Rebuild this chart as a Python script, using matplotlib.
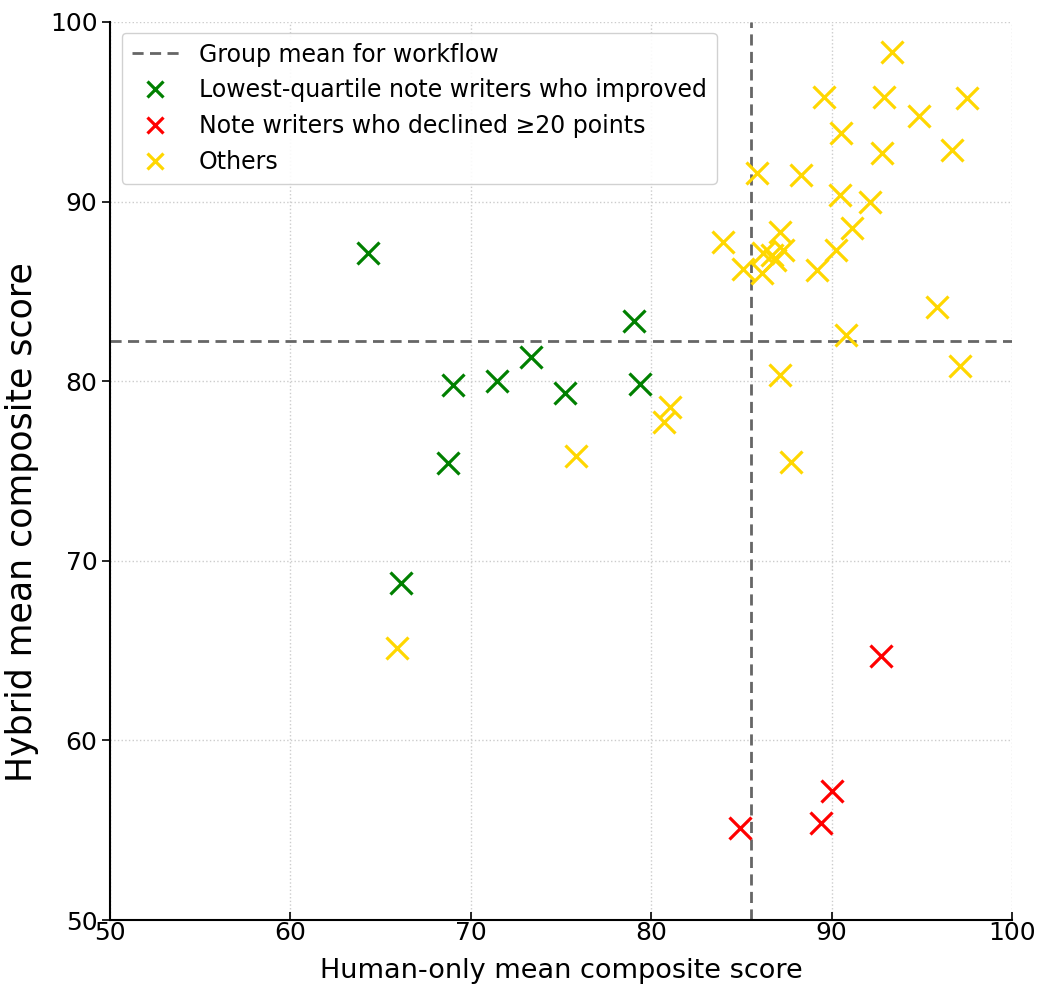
import matplotlib
matplotlib.use("Agg")
import matplotlib.pyplot as plt

# lowest-quartile writers who improved
green_x = [64.31, 69.02, 71.46, 73.35, 75.24, 79.06, 79.40, 68.75, 66.12]
green_y = [87.14, 79.79, 80.01, 81.35, 79.34, 83.35, 79.84, 75.45, 68.78]

# writers who declined >= 20 points
red_x = [84.90, 89.42, 90.03, 92.76]
red_y = [55.14, 55.39, 57.21, 64.72]

# everyone else
other_x = [93.35, 89.56, 92.91, 97.51, 94.85, 90.51, 92.78, 96.68, 85.87, 88.30,
           90.45, 92.11, 91.12, 84.00, 87.14, 90.27, 85.10, 86.15, 86.20, 86.70,
           86.85, 87.30, 89.19, 95.85, 90.78, 97.11, 87.16, 81.06, 80.69, 75.85,
           87.75, 65.90]
other_y = [98.35, 95.81, 95.81, 95.79, 94.77, 93.80, 92.69, 92.87, 91.61, 91.46,
           90.37, 89.95, 88.51, 87.75, 88.31, 87.30, 86.27, 86.00, 87.15, 87.03,
           86.75, 87.30, 86.19, 84.11, 82.57, 80.86, 80.35, 78.58, 77.75, 75.84,
           75.52, 65.13]

mean_human = 85.55
mean_hybrid = 82.22

fig = plt.figure(figsize=(10.4, 9.94), dpi=100)
ax = fig.add_axes([0.1058, 0.0744, 0.8673, 0.9035])

ms = 16
mew = 2.3
ax.axhline(mean_hybrid, color="#666666", ls="--", lw=2, dashes=(4, 2.3), zorder=2,
           label="Group mean for workflow")
ax.axvline(mean_human, color="#666666", ls="--", lw=2, dashes=(4, 2.3), zorder=2)
ax.plot(green_x, green_y, "x", color="#008000", ms=ms, mew=mew, ls="none",
        label="Lowest-quartile note writers who improved", zorder=3)
ax.plot(red_x, red_y, "x", color="#ff0000", ms=ms, mew=mew, ls="none",
        label="Note writers who declined \u226520 points", zorder=3)
ax.plot(other_x, other_y, "x", color="#ffd700", ms=ms, mew=mew, ls="none",
        label="Others", zorder=3)

ax.set_xlim(50, 100)
ax.set_ylim(50, 100)
ax.set_xticks([50, 60, 70, 80, 90, 100])
ax.set_yticks([50, 60, 70, 80, 90, 100])
ax.grid(True, ls=":", color="#cccccc", lw=1)
ax.set_axisbelow(True)
for s in ["top", "right"]:
    ax.spines[s].set_visible(False)
ax.spines["left"].set_linewidth(1.5)
ax.spines["bottom"].set_linewidth(1.5)
ax.tick_params(axis="x", direction="in", length=6, width=1.2, pad=1, labelsize=18)
ax.tick_params(axis="y", direction="out", length=6, width=1.2, pad=3, labelsize=18)

ax.set_xlabel("Human-only mean composite score", fontsize=19.5, labelpad=9)
ax.set_ylabel("Hybrid mean composite score", fontsize=25)
ax.yaxis.set_label_coords(-0.079, 0.443)

leg = ax.legend(loc="upper left", fontsize=17, markerscale=0.7, handlelength=2.0,
                handletextpad=0.85, borderpad=0.42, labelspacing=0.5,
                framealpha=0.9, bbox_to_anchor=(0.013, 0.988), borderaxespad=0)
leg.get_frame().set_edgecolor("#cccccc")

fig.savefig("out.png", dpi=100)
